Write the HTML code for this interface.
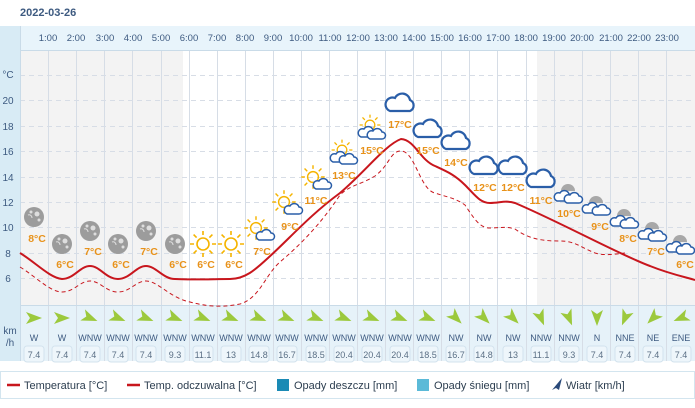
<!DOCTYPE html>
<html><head><meta charset="utf-8"><style>
html,body{margin:0;padding:0;background:#fff;}
svg{display:block;font-family:"Liberation Sans",sans-serif;}
</style></head><body>
<svg width="695" height="408" viewBox="0 0 695 408">
<defs>
<g id="moon"><circle r="10" fill="#9c9c9c"/><circle cx="3" cy="-3" r="2.5" fill="#dedede"/><circle cx="-3" cy="-5" r="1.5" fill="#dedede"/><circle cx="5" cy="3" r="1.5" fill="#dedede"/><path d="M-6,-2 a3,3 0 0 1 4,3" stroke="#ddd" fill="none"/></g>
<g id="sun" stroke="#f5b400" stroke-width="1.6" fill="none"><circle r="6"/><path d="M0,-9v-4M0,9v4M-9,0h-4M9,0h4M6.4,-6.4l3,-3M-6.4,6.4l-3,3M6.4,6.4l3,3M-6.4,-6.4l-3,-3"/></g>
<g id="cloud"><path d="M-10,7 h20 a6,6 0 0 0 0,-11 a8,8 0 0 0 -15,-2 a6,6 0 0 0 -5,13 z" fill="#fff" stroke="#2a5ea8" stroke-width="2.2"/></g>
<g id="scloud"><path d="M-6,4 h12 a3.5,3.5 0 0 0 0,-7 a5,5 0 0 0 -9,-1 a3.5,3.5 0 0 0 -3,8 z" fill="#fff" stroke="#2a5ea8" stroke-width="1.5"/></g>
<g id="sunc"><use href="#sun" transform="translate(-3,-3) scale(0.9)"/><use href="#scloud" transform="translate(6,5)"/></g>
<g id="sunc2"><use href="#sun" transform="translate(-2,-5) scale(0.8)"/><use href="#scloud" transform="translate(-5,3)"/><use href="#scloud" transform="translate(4,5)"/></g>
<g id="mc"><path d="M-8,-2 a7,7 0 0 1 14,0 z" fill="#a8a8a8"/><use href="#scloud" transform="translate(-6,4)"/><use href="#scloud" transform="translate(4,6)"/></g>
<polygon id="arr" points="8,0 -8,-6 -4,0 -8,6" fill="#9cc93c"/>
</defs>
<text x="20" y="16" font-size="11" font-weight="bold" fill="#3d5a80">2022-03-26</text>
<rect x="0" y="26" width="695" height="335" fill="#d8ebf5"/>
<rect x="20" y="26" width="675" height="24" fill="#e8f4fb"/>
<rect x="20" y="50" width="675" height="255" fill="#fff"/>
<rect x="20" y="50" width="163" height="255" fill="#f3f3f3"/>
<rect x="537" y="50" width="158" height="255" fill="#f3f3f3"/>
<rect x="20" y="305" width="675" height="56" fill="#e6f2f9"/>
<g stroke="#d6dde6" stroke-width="1">
<path d="M48.5,50V361M76.5,50V361M104.5,50V361M132.5,50V361M161.5,50V361M189.5,50V361M217.5,50V361M245.5,50V361M273.5,50V361M301.5,50V361M329.5,50V361M357.5,50V361M385.5,50V361M413.5,50V361M441.5,50V361M469.5,50V361M497.5,50V361M526.5,50V361M554.5,50V361M582.5,50V361M610.5,50V361M638.5,50V361M666.5,50V361"/>
</g>
<g stroke="#d7dde6" stroke-dasharray="5,4">
<path d="M20,50.5H695M20,75.5H695M20,100.5H695M20,126.5H695M20,151.5H695M20,177.5H695M20,202.5H695M20,227.5H695M20,253.5H695M20,278.5H695"/>
</g>
<path d="M20.5,26V361M20,50.5H695M20,305.5H695" stroke="#c9dbe8" fill="none"/>
<g font-size="9.5" fill="#3d5a80" text-anchor="middle">
<text x="48" y="41">1:00</text><text x="76" y="41">2:00</text><text x="105" y="41">3:00</text><text x="133" y="41">4:00</text><text x="161" y="41">5:00</text><text x="189" y="41">6:00</text><text x="217" y="41">7:00</text><text x="245" y="41">8:00</text><text x="273" y="41">9:00</text><text x="301" y="41">10:00</text><text x="330" y="41">11:00</text><text x="358" y="41">12:00</text><text x="386" y="41">13:00</text><text x="414" y="41">14:00</text><text x="442" y="41">15:00</text><text x="470" y="41">16:00</text><text x="498" y="41">17:00</text><text x="526" y="41">18:00</text><text x="554" y="41">19:00</text><text x="582" y="41">20:00</text><text x="611" y="41">21:00</text><text x="639" y="41">22:00</text><text x="667" y="41">23:00</text>
</g>
<g font-size="10" fill="#3d5a80" text-anchor="middle">
<text x="8" y="78">°C</text><text x="8" y="104">20</text><text x="8" y="130">18</text><text x="8" y="155">16</text><text x="8" y="181">14</text><text x="8" y="206">12</text><text x="8" y="231">10</text><text x="8" y="257">8</text><text x="8" y="282">6</text>
<text x="10" y="334">km</text><text x="10" y="346">/h</text>
</g>
<path d="M20,253 C35,262 50,278 62,279 C74,279 80,266 90,266 C100,266 106,279 118,279 C130,279 136,266 146,266 C156,266 163,279 175,279 C190,280 215,279 230,279 C245,279 255,270 268,258 C290,238 310,215 340,193 C365,172 385,145 401,139 C415,140 420,160 435,166 C448,172 455,175 465,185 C475,195 480,203 490,203 C500,203 505,200 515,203 C560,222 620,255 650,266 C670,274 685,277 695,280" fill="none" stroke="#c8161d" stroke-width="2"/>
<path d="M20,229 M20,267 C35,276 50,292 62,292 C74,292 80,281 90,281 C100,281 106,292 118,292 C130,292 136,281 146,281 C158,281 170,298 190,302 C205,306 220,308 240,304 C260,298 265,275 280,262 C300,245 320,225 340,195 C350,185 360,185 375,176 C390,165 390,151 401,151 C415,151 420,190 435,193 C450,198 455,198 465,205 C475,220 480,228 490,228 C500,228 505,226 515,229 C530,240 545,241 560,241 C575,241 580,247 595,253 C605,256 615,254 625,253" fill="none" stroke="#c8161d" stroke-width="1" stroke-dasharray="4,3"/>
<use href="#moon" x="34" y="217"/><use href="#moon" x="62" y="244"/><use href="#moon" x="90" y="231"/><use href="#moon" x="118" y="244"/><use href="#moon" x="146" y="231"/><use href="#moon" x="175" y="244"/>
<use href="#sun" x="203" y="244"/><use href="#sun" x="231" y="244"/>
<use href="#sunc" x="259" y="231"/><use href="#sunc" x="287" y="205"/><use href="#sunc" x="316" y="180"/><use href="#sunc2" x="344" y="155"/><use href="#sunc2" x="372" y="130"/>
<use href="#cloud" x="400" y="104"/><use href="#cloud" x="428" y="130"/><use href="#cloud" x="456" y="142"/><use href="#cloud" x="484" y="167"/><use href="#cloud" x="513" y="167"/><use href="#cloud" x="541" y="180"/>
<use href="#mc" x="569" y="193"/><use href="#mc" x="597" y="205"/><use href="#mc" x="625" y="218"/><use href="#mc" x="653" y="231"/><use href="#mc" x="681" y="244"/>
<g font-size="10.5" font-weight="bold" fill="#e8921a" text-anchor="middle">
<text x="37" y="242">8°C</text><text x="65" y="268">6°C</text><text x="93" y="255">7°C</text><text x="121" y="268">6°C</text><text x="149" y="255">7°C</text><text x="178" y="268">6°C</text><text x="206" y="268">6°C</text><text x="234" y="268">6°C</text><text x="262" y="255">7°C</text><text x="290" y="230">9°C</text><text x="316" y="204">11°C</text><text x="344" y="179">13°C</text><text x="372" y="154">15°C</text><text x="400" y="128">17°C</text><text x="428" y="154">15°C</text><text x="456" y="166">14°C</text><text x="485" y="191">12°C</text><text x="513" y="191">12°C</text><text x="541" y="204">11°C</text><text x="569" y="217">10°C</text><text x="600" y="230">9°C</text><text x="628" y="242">8°C</text><text x="656" y="255">7°C</text><text x="685" y="268">6°C</text>
</g>
<use href="#arr" transform="translate(34,318)"/><use href="#arr" transform="translate(62,318)"/>
<use href="#arr" transform="translate(90,318) rotate(22.5)"/><use href="#arr" transform="translate(118,318) rotate(22.5)"/><use href="#arr" transform="translate(146,318) rotate(22.5)"/><use href="#arr" transform="translate(175,318) rotate(22.5)"/><use href="#arr" transform="translate(203,318) rotate(22.5)"/><use href="#arr" transform="translate(231,318) rotate(22.5)"/><use href="#arr" transform="translate(259,318) rotate(22.5)"/><use href="#arr" transform="translate(287,318) rotate(22.5)"/><use href="#arr" transform="translate(316,318) rotate(22.5)"/><use href="#arr" transform="translate(344,318) rotate(22.5)"/><use href="#arr" transform="translate(372,318) rotate(22.5)"/><use href="#arr" transform="translate(400,318) rotate(22.5)"/><use href="#arr" transform="translate(428,318) rotate(22.5)"/>
<use href="#arr" transform="translate(456,318) rotate(45)"/><use href="#arr" transform="translate(484,318) rotate(45)"/><use href="#arr" transform="translate(513,318) rotate(45)"/>
<use href="#arr" transform="translate(541,318) rotate(67.5)"/><use href="#arr" transform="translate(569,318) rotate(67.5)"/>
<use href="#arr" transform="translate(597,318) rotate(90)"/><use href="#arr" transform="translate(625,318) rotate(112.5)"/><use href="#arr" transform="translate(653,318) rotate(135)"/><use href="#arr" transform="translate(681,318) rotate(157.5)"/>
<g fill="#eef6fb" stroke="#d3e3ee">
<rect x="24" y="346" width="20" height="16" rx="3"/><rect x="52" y="346" width="20" height="16" rx="3"/><rect x="80" y="346" width="20" height="16" rx="3"/><rect x="108" y="346" width="20" height="16" rx="3"/><rect x="136" y="346" width="20" height="16" rx="3"/><rect x="165" y="346" width="20" height="16" rx="3"/><rect x="193" y="346" width="20" height="16" rx="3"/><rect x="221" y="346" width="20" height="16" rx="3"/><rect x="249" y="346" width="20" height="16" rx="3"/><rect x="277" y="346" width="20" height="16" rx="3"/><rect x="306" y="346" width="20" height="16" rx="3"/><rect x="334" y="346" width="20" height="16" rx="3"/><rect x="362" y="346" width="20" height="16" rx="3"/><rect x="390" y="346" width="20" height="16" rx="3"/><rect x="418" y="346" width="20" height="16" rx="3"/><rect x="446" y="346" width="20" height="16" rx="3"/><rect x="474" y="346" width="20" height="16" rx="3"/><rect x="503" y="346" width="20" height="16" rx="3"/><rect x="531" y="346" width="20" height="16" rx="3"/><rect x="559" y="346" width="20" height="16" rx="3"/><rect x="587" y="346" width="20" height="16" rx="3"/><rect x="615" y="346" width="20" height="16" rx="3"/><rect x="643" y="346" width="20" height="16" rx="3"/><rect x="671" y="346" width="20" height="16" rx="3"/>
</g>
<g font-size="9" fill="#3d5a80" text-anchor="middle">
<text x="34" y="341">W</text><text x="62" y="341">W</text><text x="90" y="341">WNW</text><text x="118" y="341">WNW</text><text x="146" y="341">WNW</text><text x="175" y="341">WNW</text><text x="203" y="341">WNW</text><text x="231" y="341">WNW</text><text x="259" y="341">WNW</text><text x="287" y="341">WNW</text><text x="316" y="341">WNW</text><text x="344" y="341">WNW</text><text x="372" y="341">WNW</text><text x="400" y="341">WNW</text><text x="428" y="341">WNW</text><text x="456" y="341">NW</text><text x="484" y="341">NW</text><text x="513" y="341">NW</text><text x="541" y="341">NNW</text><text x="569" y="341">NNW</text><text x="597" y="341">N</text><text x="625" y="341">NNE</text><text x="653" y="341">NE</text><text x="681" y="341">ENE</text>
</g>
<g font-size="9" fill="#5a6f85" text-anchor="middle">
<text x="34" y="358">7.4</text><text x="62" y="358">7.4</text><text x="90" y="358">7.4</text><text x="118" y="358">7.4</text><text x="146" y="358">7.4</text><text x="175" y="358">9.3</text><text x="203" y="358">11.1</text><text x="231" y="358">13</text><text x="259" y="358">14.8</text><text x="287" y="358">16.7</text><text x="316" y="358">18.5</text><text x="344" y="358">20.4</text><text x="372" y="358">20.4</text><text x="400" y="358">20.4</text><text x="428" y="358">18.5</text><text x="456" y="358">16.7</text><text x="484" y="358">14.8</text><text x="513" y="358">13</text><text x="541" y="358">11.1</text><text x="569" y="358">9.3</text><text x="597" y="358">7.4</text><text x="625" y="358">7.4</text><text x="653" y="358">7.4</text><text x="681" y="358">7.4</text>
</g>
<rect x="0.5" y="371.5" width="694" height="27" fill="#fff" stroke="#d3e5ef"/>
<path d="M7,385H20M127,385H140" stroke="#c8161d" stroke-width="2.5"/>
<rect x="277" y="379" width="12" height="12" fill="#1a8ab5"/>
<rect x="417" y="379" width="12" height="12" fill="#5bbad8"/>
<polygon points="562,378 552,390 556,388 559,390" fill="#2a4a7a"/>
<g font-size="11" fill="#2c3e50">
<text x="24" y="389">Temperatura [°C]</text><text x="144" y="389">Temp. odczuwalna [°C]</text><text x="294" y="389">Opady deszczu [mm]</text><text x="434" y="389">Opady śniegu [mm]</text><text x="566" y="389">Wiatr [km/h]</text>
</g>
</svg>
</body></html>
